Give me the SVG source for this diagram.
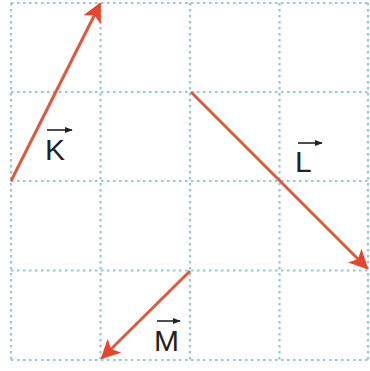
<svg xmlns="http://www.w3.org/2000/svg" width="370" height="371" viewBox="0 0 370 371">
<style>
.grid line{stroke:#8fc9d9;stroke-width:2.2;stroke-dasharray:2.5 3.5}
.vec{stroke:#dc5a3e;stroke-width:3;fill:none}
.lbl{font-family:"Liberation Sans",Arial,sans-serif;font-size:30px;fill:#222}
.bar{stroke:#222;stroke-width:1.6}
</style>
<defs>
<marker id="ah" viewBox="0 0 10 10" refX="9" refY="5" markerWidth="6.5" markerHeight="6.5" orient="auto" markerUnits="strokeWidth">
<path d="M0,0 L10,5 L0,10 L2.5,5 Z" fill="#e8452c"/>
</marker>
<marker id="sh" viewBox="0 0 10 10" refX="9" refY="5" markerWidth="5" markerHeight="5" orient="auto">
<path d="M0,1 L10,5 L0,9 Z" fill="#222"/>
</marker>
</defs>
<rect width="370" height="371" fill="#fff"/>
<g class="grid">
<line x1="11" y1="3" x2="11" y2="360"/>
<line x1="100.5" y1="3" x2="100.5" y2="360"/>
<line x1="190" y1="3" x2="190" y2="360"/>
<line x1="279.5" y1="3" x2="279.5" y2="360"/>
<line x1="368" y1="3" x2="368" y2="360"/>
<line x1="11" y1="3" x2="368" y2="3"/>
<line x1="11" y1="92" x2="368" y2="92"/>
<line x1="11" y1="181" x2="368" y2="181"/>
<line x1="11" y1="270.5" x2="368" y2="270.5"/>
<line x1="11" y1="360" x2="368" y2="360"/>
</g>
<g id="connectors">
<line class="vec" x1="11" y1="181" x2="100" y2="4" marker-end="url(#ah)"/>
<line class="vec" x1="191" y1="92" x2="367" y2="268" marker-end="url(#ah)"/>
<line class="vec" x1="190" y1="271" x2="102" y2="358" marker-end="url(#ah)"/>
</g>
<g id="K">
<line class="bar" x1="47" y1="130" x2="72" y2="130" marker-end="url(#sh)"/>
<text class="lbl" x="45" y="160">K</text>
</g>
<g id="L">
<line class="bar" x1="298" y1="143" x2="322" y2="143" marker-end="url(#sh)"/>
<text class="lbl" x="295" y="172">L</text>
</g>
<g id="M">
<line class="bar" x1="157" y1="321" x2="180" y2="321" marker-end="url(#sh)"/>
<text class="lbl" x="154" y="351">M</text>
</g>
</svg>
